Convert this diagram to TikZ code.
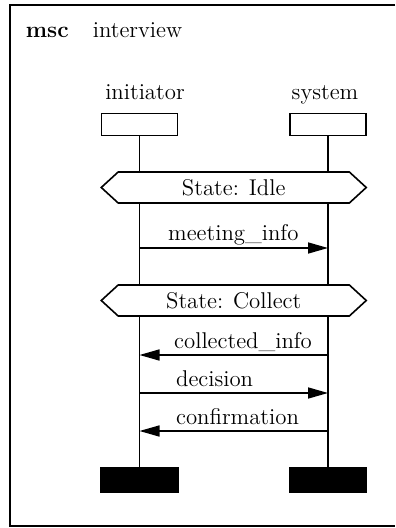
\documentclass[tikz,border=0pt]{standalone}
\usepackage{tikz}
\usetikzlibrary{arrows.meta,shapes.symbols}
\tikzset{instbox/.style={draw, fill=white, minimum width=38pt, minimum height=11pt, inner sep=0pt},
  endbox/.style={draw, fill=black, minimum width=38.5pt, minimum height=12.5pt, inner sep=0pt},
  statebox/.style={signal, signal to=west and east, signal pointer angle=85, draw, fill=white,
      minimum width=132.5pt, minimum height=15.5pt, inner sep=0pt},
  msg/.style={-{Triangle[length=10pt,width=5.5pt]}},
  msglabel/.style={anchor=base west, inner sep=0pt, yshift=3.5pt}}

\begin{document}
\begin{tikzpicture}[x=0.5pt,y=-0.5pt,line width=0.8pt,font=\fontsize{11.4}{13.5}\selectfont]
    \useasboundingbox (0,0) rectangle (395,528);
    \draw[line width=0.6pt] (395,5) -| (10,526) -- (395,526);
    \node[anchor=base west, inner sep=0pt] (mscword) at (25,38) {\textbf{msc}};
    \node[anchor=base west, inner sep=0pt] (mscname) at (92,38) {interview};
    % instances
    \node[anchor=base, inner sep=0pt] (iname) at (145,100) {initiator};
    \node[anchor=base, inner sep=0pt] (sname) at (325,100) {system};
    \node[instbox] (ihead) at (139.5,124.5) {};
    \node[instbox] (shead) at (328,124.5) {};
    \node[endbox] (iend) at (139.5,480) {};
    \node[endbox] (send) at (328,480) {};
    \draw (ihead) -- (iend);
    \draw (shead) -- (send);
    % states
    \node[statebox] (idle) at (233.75,187.5) {State: Idle};
    \node[statebox] (collect) at (233.75,300.5) {State: Collect};
    % messages
    \coordinate (i1) at (139.5,248); \coordinate (s1) at (328,248);
    \coordinate (i2) at (139.5,355); \coordinate (s2) at (328,355);
    \coordinate (i3) at (139.5,393); \coordinate (s3) at (328,393);
    \coordinate (i4) at (139.5,431); \coordinate (s4) at (328,431);
    \draw[msg] (i1) -- (s1) node[msglabel, pos=0.148] {meeting\_info};
    \draw[msg] (s2) -- (i2) node[msglabel, pos=0.82] {collected\_info};
    \draw[msg] (i3) -- (s3) node[msglabel, pos=0.19] {decision};
    \draw[msg] (s4) -- (i4) node[msglabel, pos=0.81] {confirmation};
  \end{tikzpicture}
\end{document}
